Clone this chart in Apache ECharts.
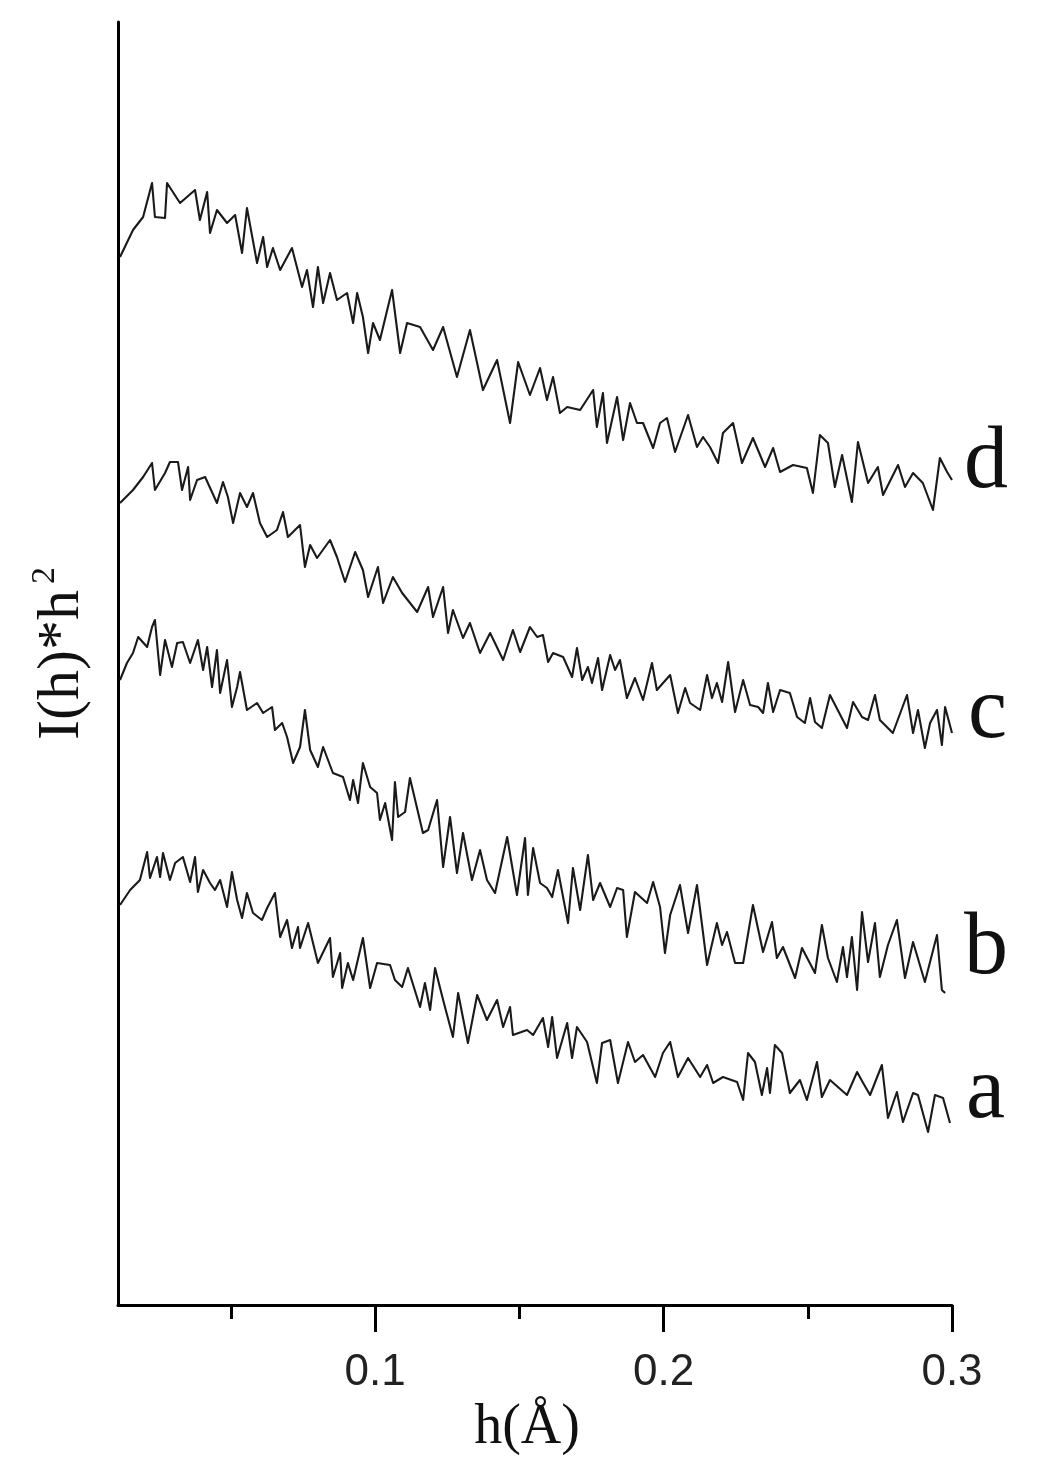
<!DOCTYPE html>
<html>
<head>
<meta charset="utf-8">
<script src="https://cdn.jsdelivr.net/npm/echarts@6/dist/echarts.min.js"></script>
<style>
html,body{margin:0;padding:0;background:#fff;}
#chart{width:1041px;height:1474px;}
</style>
</head>
<body>
<div id="chart"></div>
<script>
// x tick labels and minor ticks (h in Å)
var tickLabels = [0.1, 0.2, 0.3];
var minorTicks = [0.05, 0.15, 0.25];
var curveNames = ['a', 'b', 'c', 'd'];

// Curve d
var dX = [0.0116,0.0161,0.0196,0.0227,0.0237,0.0272,0.0279,0.0324,0.0376,0.0393,0.0418,0.0428,0.0452,0.0487,0.0515,0.0539,0.0556,0.0591,0.0612,0.0626,0.0646,0.0671,0.0712,0.0747,0.0764,0.0785,0.0802,0.0820,0.0844,0.0868,0.0903,0.0924,0.0938,0.0958,0.0976,0.0993,0.1017,0.1059,0.1087,0.1111,0.1156,0.1201,0.1236,0.1284,0.1329,0.1374,0.1423,0.1468,0.1496,0.1537,0.1572,0.1596,0.1617,0.1641,0.1666,0.1711,0.1756,0.1769,0.1790,0.1804,0.1839,0.1860,0.1884,0.1908,0.1929,0.1964,0.1988,0.2012,0.2040,0.2085,0.2116,0.2137,0.2161,0.2189,0.2206,0.2241,0.2272,0.2310,0.2352,0.2380,0.2404,0.2449,0.2497,0.2518,0.2542,0.2570,0.2594,0.2619,0.2653,0.2674,0.2709,0.2743,0.2761,0.2813,0.2837,0.2865,0.2899,0.2934,0.2958,0.2983,0.3000];
var dY = [10.48,10.75,10.88,11.22,10.88,10.87,11.22,11.02,11.15,10.85,11.13,10.72,10.95,10.82,10.90,10.52,10.97,10.42,10.68,10.38,10.57,10.35,10.57,10.18,10.35,9.98,10.38,10.02,10.32,10.05,10.12,9.82,10.12,9.88,9.52,9.82,9.65,10.15,9.52,9.82,9.78,9.55,9.78,9.28,9.75,9.15,9.45,8.82,9.43,9.10,9.37,9.05,9.28,8.92,8.98,8.95,9.15,8.78,9.12,8.62,9.08,8.65,9.02,8.82,8.82,8.57,8.82,8.87,8.53,8.90,8.58,8.68,8.58,8.42,8.72,8.82,8.42,8.67,8.38,8.57,8.33,8.40,8.37,8.12,8.70,8.62,8.18,8.50,8.03,8.63,8.22,8.38,8.10,8.40,8.18,8.32,8.22,7.95,8.47,8.33,8.25];

// Curve c
var cX = [0.0116,0.0161,0.0196,0.0227,0.0237,0.0272,0.0289,0.0317,0.0331,0.0352,0.0359,0.0383,0.0411,0.0452,0.0473,0.0490,0.0508,0.0532,0.0556,0.0577,0.0601,0.0626,0.0660,0.0681,0.0698,0.0740,0.0757,0.0775,0.0799,0.0844,0.0868,0.0896,0.0931,0.0958,0.0976,0.1010,0.1028,0.1062,0.1094,0.1146,0.1184,0.1201,0.1236,0.1253,0.1270,0.1305,0.1329,0.1364,0.1399,0.1444,0.1478,0.1503,0.1537,0.1562,0.1582,0.1600,0.1617,0.1652,0.1683,0.1700,0.1718,0.1738,0.1752,0.1773,0.1787,0.1815,0.1832,0.1849,0.1873,0.1901,0.1929,0.1960,0.1977,0.2023,0.2050,0.2075,0.2092,0.2127,0.2151,0.2168,0.2185,0.2203,0.2224,0.2248,0.2276,0.2300,0.2328,0.2345,0.2362,0.2380,0.2404,0.2438,0.2463,0.2490,0.2508,0.2525,0.2549,0.2577,0.2636,0.2657,0.2688,0.2709,0.2733,0.2750,0.2795,0.2844,0.2865,0.2882,0.2906,0.2924,0.2948,0.2965,0.2976,0.3000];
var cY = [8.02,8.15,8.28,8.42,8.15,8.32,8.43,8.43,8.15,8.38,8.05,8.25,8.28,8.02,8.23,8.08,7.82,8.12,7.98,8.12,7.82,7.68,7.75,7.93,7.68,7.80,7.38,7.60,7.47,7.65,7.48,7.23,7.53,7.35,7.08,7.38,7.02,7.28,7.12,6.93,7.18,6.88,7.18,6.72,6.95,6.67,6.82,6.52,6.72,6.45,6.75,6.53,6.78,6.68,6.70,6.43,6.52,6.48,6.28,6.57,6.25,6.38,6.22,6.47,6.15,6.50,6.35,6.45,6.07,6.27,6.05,6.42,6.15,6.30,5.92,6.17,6.02,5.95,6.30,6.07,6.22,6.03,6.43,5.93,6.25,6.00,5.98,5.92,6.22,5.93,6.15,6.12,5.88,5.82,6.07,5.83,5.77,6.10,5.77,6.03,5.88,5.85,6.10,5.85,5.72,6.10,5.72,5.95,5.57,5.82,5.95,5.60,5.98,5.72];

// Curve b
var bX = [0.0116,0.0140,0.0161,0.0179,0.0210,0.0227,0.0237,0.0255,0.0272,0.0296,0.0314,0.0334,0.0359,0.0386,0.0404,0.0418,0.0435,0.0452,0.0463,0.0487,0.0504,0.0522,0.0532,0.0556,0.0591,0.0612,0.0643,0.0653,0.0678,0.0695,0.0716,0.0740,0.0757,0.0775,0.0802,0.0820,0.0854,0.0889,0.0913,0.0924,0.0941,0.0958,0.0983,0.1007,0.1017,0.1035,0.1059,0.1069,0.1080,0.1104,0.1121,0.1166,0.1184,0.1215,0.1236,0.1260,0.1284,0.1305,0.1336,0.1364,0.1388,0.1416,0.1458,0.1492,0.1520,0.1530,0.1548,0.1572,0.1596,0.1614,0.1634,0.1669,0.1686,0.1711,0.1738,0.1756,0.1780,0.1815,0.1839,0.1860,0.1873,0.1901,0.1943,0.1964,0.1988,0.2005,0.2023,0.2057,0.2085,0.2116,0.2151,0.2185,0.2203,0.2220,0.2248,0.2276,0.2310,0.2345,0.2376,0.2393,0.2414,0.2456,0.2480,0.2525,0.2549,0.2570,0.2601,0.2622,0.2636,0.2653,0.2671,0.2688,0.2709,0.2733,0.2750,0.2778,0.2809,0.2837,0.2865,0.2906,0.2948,0.2965,0.2976];
var bY = [6.25,6.42,6.52,6.68,6.58,6.78,6.85,6.30,6.65,6.38,6.62,6.63,6.42,6.65,6.35,6.58,6.18,6.55,6.12,6.45,5.98,6.18,6.33,5.95,6.02,5.92,5.98,5.75,5.82,5.68,5.42,5.58,5.95,5.55,5.38,5.58,5.32,5.28,5.05,5.25,5.02,5.42,5.18,5.12,4.85,5.02,4.65,5.23,4.88,4.93,5.27,4.72,4.75,5.05,4.38,4.88,4.32,4.72,4.25,4.55,4.25,4.12,4.68,4.10,4.67,4.10,4.57,4.22,4.17,4.08,4.35,3.82,4.37,3.95,4.50,4.05,4.22,3.98,4.17,4.15,3.68,4.13,4.02,4.23,3.98,3.52,3.90,4.20,3.72,4.20,3.40,3.82,3.60,3.73,3.42,3.42,4.00,3.53,3.83,3.47,3.58,3.27,3.57,3.32,3.80,3.47,3.23,3.58,3.28,3.68,3.15,3.93,3.43,3.82,3.28,3.60,3.85,3.27,3.63,3.23,3.70,3.15,3.12];

// Curve a
var aX = [0.0116,0.0151,0.0185,0.0210,0.0220,0.0244,0.0255,0.0265,0.0289,0.0307,0.0334,0.0359,0.0376,0.0386,0.0404,0.0428,0.0445,0.0463,0.0487,0.0504,0.0522,0.0539,0.0556,0.0577,0.0608,0.0626,0.0653,0.0671,0.0695,0.0712,0.0733,0.0740,0.0768,0.0802,0.0844,0.0854,0.0879,0.0886,0.0906,0.0924,0.0958,0.0983,0.1007,0.1052,0.1069,0.1094,0.1114,0.1156,0.1173,0.1191,0.1208,0.1236,0.1270,0.1288,0.1322,0.1354,0.1388,0.1423,0.1444,0.1468,0.1478,0.1527,0.1548,0.1582,0.1600,0.1614,0.1631,0.1666,0.1683,0.1700,0.1735,0.1769,0.1787,0.1815,0.1842,0.1877,0.1901,0.1929,0.1971,0.1998,0.2023,0.2050,0.2085,0.2127,0.2151,0.2172,0.2206,0.2255,0.2276,0.2293,0.2317,0.2341,0.2359,0.2369,0.2386,0.2411,0.2438,0.2473,0.2497,0.2532,0.2549,0.2577,0.2636,0.2671,0.2692,0.2716,0.2757,0.2778,0.2809,0.2830,0.2865,0.2882,0.2917,0.2941,0.2969,0.2993];
var aY = [4.00,4.15,4.25,4.53,4.27,4.48,4.28,4.52,4.25,4.42,4.48,4.23,4.48,4.13,4.35,4.22,4.15,4.25,3.98,4.33,4.05,3.87,4.12,3.92,3.85,3.97,4.12,3.68,3.85,3.57,3.78,3.57,3.82,3.42,3.67,3.28,3.52,3.17,3.42,3.25,3.67,3.17,3.42,3.40,3.25,3.18,3.37,2.98,3.22,2.95,3.37,3.05,2.68,3.12,2.62,3.10,2.85,3.05,2.78,2.98,2.70,2.75,2.70,2.87,2.58,2.88,2.47,2.82,2.47,2.78,2.63,2.22,2.62,2.65,2.22,2.63,2.43,2.50,2.28,2.52,2.63,2.28,2.47,2.28,2.40,2.22,2.28,2.23,2.05,2.52,2.43,2.10,2.37,2.12,2.60,2.52,2.12,2.25,2.05,2.43,2.08,2.25,2.10,2.33,2.22,2.10,2.40,1.87,2.13,1.83,2.12,2.10,1.73,2.10,2.07,1.82];

function pairs(xs, ys) {
  var out = [];
  for (var i = 0; i < xs.length; i++) out.push([xs[i], ys[i]]);
  return out;
}

var X_MIN = 0.0109, X_MAX = 0.3, Y_MIN = 0, Y_MAX = 12.83;
var serif = '"Liberation Serif", "DejaVu Serif", serif';
var sans = '"Liberation Sans", Arial, sans-serif';

var chart = echarts.init(document.getElementById('chart'), null, {renderer: 'canvas'});

function lineSeries(name, xs, ys) {
  return {
    name: name, type: 'line', xAxisIndex: 0, yAxisIndex: 0,
    data: pairs(xs, ys), showSymbol: false, symbol: 'none',
    lineStyle: {color: '#1a1a1a', width: 2.1, join: 'round'}, animation: false, clip: false
  };
}

var option = {
  backgroundColor: '#ffffff',
  animation: false,
  grid: {left: 118, right: 89, top: 22, bottom: 169, containLabel: false},
  xAxis: [{
    type: 'value', min: X_MIN, max: X_MAX,
    name: 'h(Å)', nameLocation: 'middle', nameGap: 88,
    nameTextStyle: {fontFamily: serif, fontSize: 56, color: '#111', padding: [0, 16, 0, 0]},
    axisLine: {show: true, onZero: false, lineStyle: {color: '#000', width: 3}},
    axisTick: {show: true, customValues: tickLabels, length: 27, lineStyle: {color: '#000', width: 3}},
    axisLabel: {show: true, customValues: tickLabels, margin: 46, fontFamily: sans, fontSize: 44, color: '#222',
      formatter: function (v) { return String(Math.round(v * 10) / 10); }},
    splitLine: {show: false}
  }, {
    type: 'value', min: X_MIN, max: X_MAX, position: 'bottom',
    axisLine: {show: false},
    axisTick: {show: true, customValues: minorTicks, length: 14, lineStyle: {color: '#000', width: 3}},
    axisLabel: {show: false},
    splitLine: {show: false}
  }],
  yAxis: [{
    type: 'value', min: Y_MIN, max: Y_MAX,
    name: 'I(h)*h{sup|2}', nameLocation: 'middle', nameGap: 22, nameRotate: 90,
    nameTextStyle: {fontFamily: serif, fontSize: 60, color: '#111', padding: [0, 0, 0, 20],
      rich: {sup: {fontFamily: serif, fontSize: 34, color: '#111', padding: [0, 0, 34, 6]}}},
    axisLine: {show: true, onZero: false, lineStyle: {color: '#000', width: 3}},
    axisTick: {show: false}, axisLabel: {show: false}, splitLine: {show: false}
  }],
  series: [
    lineSeries('a', aX, aY),
    lineSeries('b', bX, bY),
    lineSeries('c', cX, cY),
    lineSeries('d', dX, dY)
  ],
  graphic: [
    {type: 'text', x: 966, y: 1094, style: {text: curveNames[0], font: '88px ' + serif, fill: '#111', verticalAlign: 'middle'}},
    {type: 'text', x: 964, y: 950, style: {text: curveNames[1], font: '88px ' + serif, fill: '#111', verticalAlign: 'middle'}},
    {type: 'text', x: 968, y: 714, style: {text: curveNames[2], font: '88px ' + serif, fill: '#111', verticalAlign: 'middle'}},
    {type: 'text', x: 964, y: 464, style: {text: curveNames[3], font: '88px ' + serif, fill: '#111', verticalAlign: 'middle'}}
  ]
};
chart.setOption(option);
</script>
</body>
</html>
